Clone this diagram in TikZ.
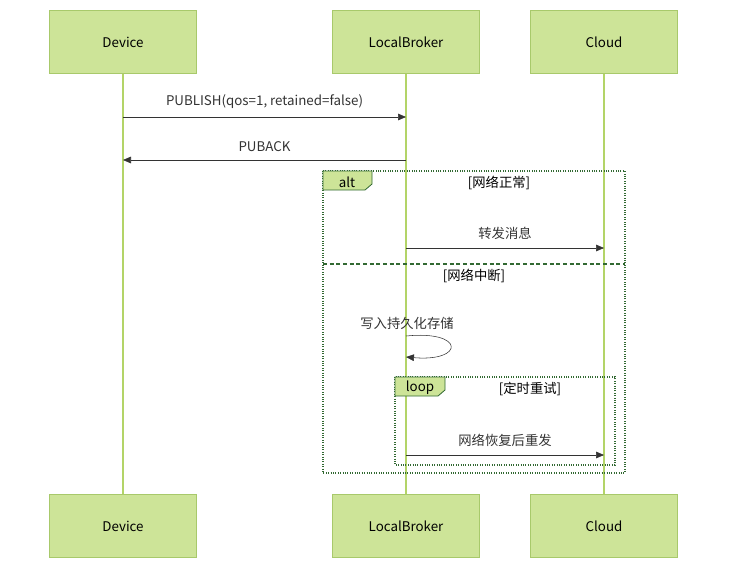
\documentclass[tikz,border=0pt]{standalone}
\usepackage{fontspec}
\setmainfont{Noto Sans CJK SC}
\usetikzlibrary{arrows.meta,positioning}
\definecolor{actfill}{HTML}{CDE498}
\definecolor{actline}{HTML}{A8C96B}
\definecolor{lifeline}{HTML}{B3D468}
\definecolor{framec}{HTML}{326932}
\definecolor{msgc}{HTML}{333333}
\begin{document}
\begin{tikzpicture}[x=0.75pt,y=-0.75pt,font=\fontsize{10}{12}\selectfont,
  actor/.style={draw=actline,fill=actfill,minimum width=110pt,minimum height=47pt,inner sep=0pt},
  msg/.style={draw=msgc,-{Triangle[length=6pt,width=5pt]}},
  frame/.style={draw=framec,densely dotted,line width=0.8pt},
  tag/.style={fill=actfill,draw=framec,line width=0.6pt}]
		\useasboundingbox (0,0) rectangle (736,576);
		% actors
		\node[actor] (dev) at (123,42) {Device};
		\node[actor] (lb) at (406,42) {LocalBroker};
		\node[actor] (cl) at (604,42) {Cloud};
		\node[actor] (devb) at (123,526) {Device};
		\node[actor] (lbb) at (406,526) {LocalBroker};
		\node[actor] (clb) at (604,526) {Cloud};
		\draw[lifeline,line width=1.2pt] (dev) -- (devb);
		\draw[lifeline,line width=1.2pt] (lb) -- (lbb);
		\draw[lifeline,line width=1.2pt] (cl) -- (clb);
		% messages
		\coordinate (d1) at (123,117); \coordinate (l1) at (406,117);
		\draw[msg] (d1) -- node[above=3pt,text=msgc] {PUBLISH(qos=1, retained=false)} (l1);
		\coordinate (l2) at (406,160); \coordinate (d2) at (123,160);
		\draw[msg] (l2) -- node[above=3pt,text=msgc] {PUBACK} (d2);
		% alt frame
		\draw[frame] (323,171) rectangle (625,473);
		\draw[tag] (323,171) -- (372,171) -- (372,184) -- (365,190) -- (323,190) -- cycle;
		\node at (347,182) {alt};
		\node at (499,183) {[网络正常]};
		\coordinate (l3) at (406,248); \coordinate (c3) at (604,248);
		\draw[msg] (l3) -- node[above=3pt,text=msgc] {转发消息} (c3);
		\draw[framec,densely dashed,line width=0.8pt] (323,264) -- (625,264);
		\node at (474,276) {[网络中断]};
		\node[text=msgc] (selfl) at (407,323) {写入持久化存储};
		\coordinate (s1) at (406,336); \coordinate (s2) at (406,357);
		\draw[msg] (s1) .. controls (465,330) and (465,362) .. (s2);
		% loop frame
		\draw[frame] (395,377) rectangle (615,465);
		\draw[tag] (395,377) -- (445,377) -- (445,390) -- (438,396) -- (395,396) -- cycle;
		\node at (420,388) {loop};
		\node at (530,389) {[定时重试]};
		\coordinate (l4) at (406,455); \coordinate (c4) at (604,455);
		\draw[msg] (l4) -- node[above=3pt,text=msgc] {网络恢复后重发} (c4);
\end{tikzpicture}
\end{document}
